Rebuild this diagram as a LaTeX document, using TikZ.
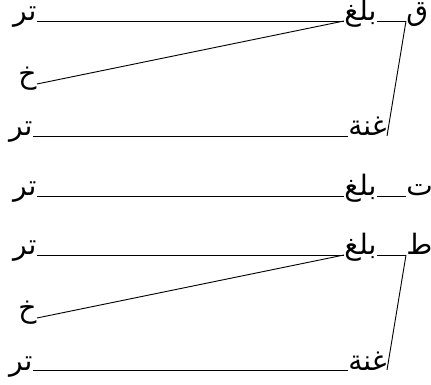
\documentclass[tikz,border=0pt]{standalone}
\usepackage{fontspec}
\usepackage{tikz}
\usetikzlibrary{positioning}
\newfontfamily\arabicfont[Script=Arabic]{DejaVu Sans}
\TeXXeTstate=1
\newcommand{\artxt}[1]{{\arabicfont\beginR #1\endR}}

\begin{document}
\begin{tikzpicture}[
  line width=0.65pt,
  word/.style={inner sep=0pt, font=\fontsize{20}{24}\selectfont},
  leaf/.style={word, anchor=base east},
  mid/.style={word, anchor=base east},
  root/.style={word, anchor=base west}
]
\useasboundingbox (0,0) rectangle (10.775,-9.625);
% first tree
\node[root] (qaf) at (10.15,-0.525) {\artxt{ق}};
\node[mid] (balagha1) at (9.425,-0.525) {\artxt{بلغ}};
\node[mid] (ghunna1) at (9.675,-3.4) {\artxt{غنة}};
\node[leaf] (tar1) at (0.925,-0.525) {\artxt{تر}};
\node[leaf] (kha1) at (0.925,-2.1) {\artxt{خ}};
\node[leaf] (tar2) at (0.825,-3.4) {\artxt{تر}};
\draw (qaf.base west) -- (balagha1.base east);
\draw (qaf.base west) -- (ghunna1.base east);
\draw (balagha1.base west) -- (tar1.base east);
\draw (balagha1.base west) -- (kha1.base east);
\draw (ghunna1.base west) -- (tar2.base east);
% second tree
\node[root] (ta) at (10.15,-4.9) {\artxt{ت}};
\node[mid] (balagha2) at (9.425,-4.9) {\artxt{بلغ}};
\node[leaf] (tar3) at (0.925,-4.9) {\artxt{تر}};
\draw (ta.base west) -- (balagha2.base east);
\draw (balagha2.base west) -- (tar3.base east);
% third tree
\node[root] (tta) at (10.15,-6.375) {\artxt{ط}};
\node[mid] (balagha3) at (9.425,-6.375) {\artxt{بلغ}};
\node[mid] (ghunna2) at (9.675,-9.25) {\artxt{غنة}};
\node[leaf] (tar4) at (0.925,-6.375) {\artxt{تر}};
\node[leaf] (kha2) at (0.925,-7.95) {\artxt{خ}};
\node[leaf] (tar5) at (0.825,-9.25) {\artxt{تر}};
\draw (tta.base west) -- (balagha3.base east);
\draw (tta.base west) -- (ghunna2.base east);
\draw (balagha3.base west) -- (tar4.base east);
\draw (balagha3.base west) -- (kha2.base east);
\draw (ghunna2.base west) -- (tar5.base east);
\end{tikzpicture}
\end{document}
